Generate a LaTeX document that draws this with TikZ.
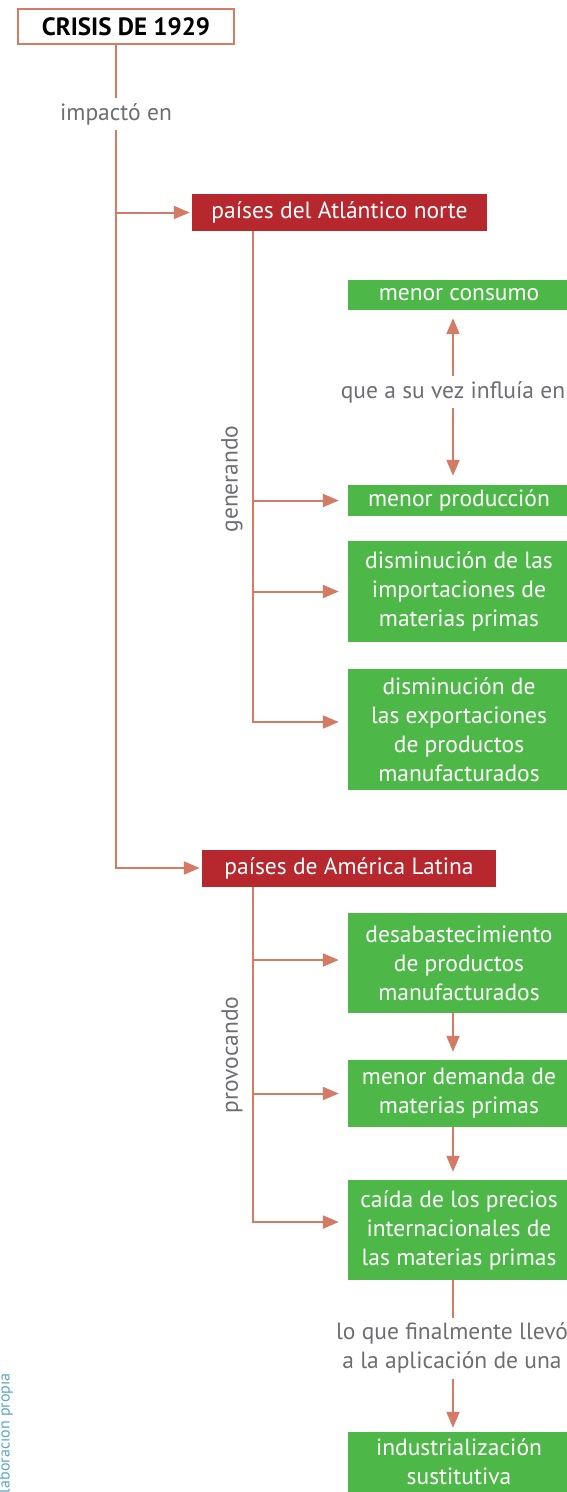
\documentclass[tikz,border=0pt]{standalone}
\usepackage{fontspec}
\setmainfont{PT Sans}
\usetikzlibrary{
  positioning,
  calc,
  arrows.meta
}

\definecolor{linksalmon}{RGB}{211,123,101}
\definecolor{regionred}{RGB}{183,40,46}
\definecolor{effectgreen}{RGB}{77,184,72}
\definecolor{labelgray}{RGB}{109,110,113}
\definecolor{sourceteal}{RGB}{90,165,200}

\newcommand{\mapfont}{\fontsize{23.5}{29}\selectfont}

\tikzset{
  link/.style={draw=linksalmon, line width=2pt},
  arr/.style={link, -{Triangle[length=16pt,width=13pt]}, shorten >=9pt},
  crisisbox/.style={draw=linksalmon, line width=2pt, fill=white, text=black,
    font=\fontsize{25}{29}\selectfont\bfseries, minimum width=216pt, minimum height=35pt, inner sep=0pt},
  regionbox/.style={fill=regionred, text=white, font=\mapfont,
    minimum height=37pt, inner sep=0pt},
  effectbox/.style={fill=effectgreen, text=white, font=\mapfont, align=center,
    minimum width=222pt, inner sep=0pt},
  linklabel/.style={text=labelgray, font=\mapfont, align=center, inner xsep=0pt, inner ysep=5pt},
  sourcelabel/.style={text=sourceteal, font=\fontsize{16}{19}\selectfont, inner sep=0pt}
}

\begin{document}
\begin{tikzpicture}[x=1pt,y=-1pt]
  \useasboundingbox (0,0) rectangle (566,1492);

  % main concept
  \node[crisisbox] (crisis) at (126,26.5) {CRISIS DE 1929};
  \node[linklabel] (impacto) at (116,114) {impactó en};
  \node[regionbox, minimum width=295pt] (atl) at (339.5,212.5) {países del Atlántico norte};
  \node[regionbox, minimum width=294pt] (lat) at (349,868) {países de América Latina};

  % Atlantico norte
  \node[effectbox, minimum height=30pt] (consumo) at (459,295) {menor consumo};
  \node[linklabel] (influia) at (453,392) {que a su vez influía en};
  \node[effectbox, minimum height=31pt] (produccion) at (459,500.5) {menor producción};
  \node[effectbox, minimum height=101pt] (importaciones) at (459,591.5)
    {disminución de las\\importaciones de\\materias primas};
  \node[effectbox, minimum height=121pt] (exportaciones) at (459,729.5)
    {disminución de\\las exportaciones\\de productos\\manufacturados};
  \node[linklabel, rotate=90] (generando) at (232,479) {generando};

  % America Latina
  \node[effectbox, minimum height=100pt] (desabasto) at (459,963)
    {desabastecimiento\\de productos\\manufacturados};
  \node[effectbox, minimum height=67pt] (demanda) at (459,1093.5)
    {menor demanda de\\materias primas};
  \node[effectbox, minimum height=100pt] (precios) at (459,1230)
    {caída de los precios\\internacionales de\\las materias primas};
  \node[linklabel] (llevo) at (452,1348) {lo que finalmente llevó\\a la aplicación de una};
  \node[effectbox, minimum height=60pt] (industrializacion) at (459,1462)
    {industrialización\\sustitutiva};
  \node[linklabel, rotate=90] (provocando) at (232,1055) {provocando};

  \node[sourcelabel, rotate=90, anchor=base east] (fuente) at (9.5,1373) {Elaboración propia};

  % connectors
  \draw[link] (crisis.south -| impacto) -- (impacto.north);
  \draw[arr, shorten >=2pt] (impacto.south) |- (atl.west);
  \draw[arr, shorten >=2pt] (impacto.south) |- (lat.west);

  \draw[arr] ([xshift=61pt]atl.south west) |- (produccion.west);
  \draw[arr] ([xshift=61pt]atl.south west) |- (importaciones.west);
  \draw[arr] ([xshift=61pt]atl.south west) |- ([yshift=7.5pt]exportaciones.west);
  \draw[arr, shorten >=8pt] (influia.north) -- (consumo.south -| influia);
  \draw[arr] (influia.south) -- (produccion.north -| influia);

  \draw[arr] ([xshift=51pt]lat.south west) |- ([yshift=3pt]desabasto.west);
  \draw[arr] ([xshift=51pt]lat.south west) |- (demanda.west);
  \draw[arr] ([xshift=51pt]lat.south west) |- ([yshift=8pt]precios.west);
  \draw[arr, shorten >=8pt] (desabasto.south -| influia) -- (demanda.north -| influia);
  \draw[arr, shorten >=8pt] (demanda.south -| influia) -- (precios.north -| influia);
  \draw[link] (precios.south -| influia) -- (llevo.north -| influia);
  \draw[arr, shorten >=4pt] (llevo.south -| influia) -- (industrializacion.north -| influia);
\end{tikzpicture}
\end{document}
